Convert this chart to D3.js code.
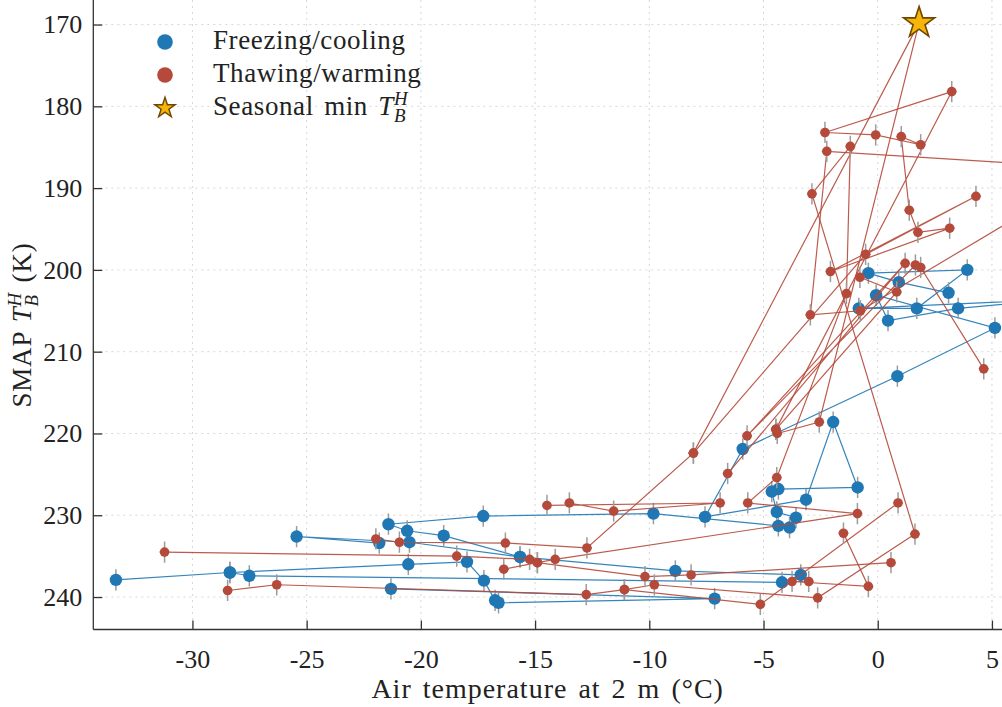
<!DOCTYPE html>
<html>
<head>
<meta charset="utf-8">
<script src="https://cdn.jsdelivr.net/npm/d3@7"></script>
<style>
  html, body { margin: 0; padding: 0; background: #fff; }
  svg { display: block; font-family: "Liberation Serif", "Times New Roman", serif; }
</style>
</head>
<body>
<svg id="chart" width="1002" height="707"></svg>
<script>
// Axis ticks
const xTicks = [-30, -25, -20, -15, -10, -5, 0, 5];
const yTicks = [170, 180, 190, 200, 210, 220, 230, 240];

// Freezing / cooling trajectories: [air temperature (°C), TB H-pol (K)]
const freezeA = [
  [3.10, 202.8], [0.92, 201.5], [-0.41, 200.4], [3.92, 200.0], [1.71, 204.7],
  [-0.83, 204.7], [8.0, 203.6], [3.52, 204.7], [0.45, 206.2], [-0.07, 203.1],
  [5.13, 207.1], [0.86, 213.0], [-5.91, 221.9], [-7.56, 230.2], [-3.14, 228.1],
  [-1.95, 218.6], [-0.88, 226.6], [-4.35, 226.8], [-4.64, 227.1], [-4.42, 229.6],
  [-3.58, 230.3], [-3.86, 231.5], [-4.35, 231.3], [-9.82, 229.8], [-17.27, 230.1],
  [-21.42, 231.1], [-20.60, 231.9], [-19.00, 232.5], [-15.66, 235.1], [-8.86, 236.8],
  [-3.37, 237.3], [-4.19, 238.2], [-27.51, 237.4], [-28.36, 237.0], [-33.35, 237.9]
];
const freezeB = [
  [-28.36, 237.0], [-20.55, 236.0], [-17.98, 235.7], [-17.24, 238.0],
  [-16.75, 240.4], [-16.60, 240.7], [-7.14, 240.2], [-21.31, 239.0]
];
const freezeC = [
  [-21.82, 233.4], [-25.44, 232.6], [-20.50, 233.3], [-15.66, 235.1]
];

// Seasonal minimum of TB H-pol
const seasonalMin = [1.81, 169.8];

// Thawing / warming trajectories
const thawA = [
  [-31.22, 234.5], [-18.43, 235.0], [-15.24, 235.4], [-14.90, 235.8], [-14.12, 235.4],
  [-0.89, 229.8], [-5.69, 228.5], [-4.42, 225.4], [-1.37, 202.9], [-1.20, 184.9],
  [-2.88, 190.7], [1.63, 232.3], [-2.63, 240.1], [-9.78, 238.5], [-11.09, 239.1],
  [-12.76, 239.7], [-26.31, 238.5], [-28.46, 239.2]
];
const thawB = [
  [-21.97, 232.9], [-20.94, 233.3], [-16.30, 233.4], [-12.73, 234.0], [-8.07, 222.4],
  [1.81, 169.8], [-2.56, 218.6], [-4.40, 220.0]
];
const thawC = [[-14.48, 228.8], [-6.90, 228.5], [-11.56, 229.5], [-13.50, 228.5]];
const thawD = [[-16.37, 236.6], [-14.90, 235.8], [-10.19, 237.5], [-8.17, 237.3], [0.58, 235.8]];
const thawE = [[-11.09, 239.1], [-5.14, 240.9], [0.89, 228.5]];
const thawF = [[-3.02, 238.1], [-3.75, 238.1], [-0.41, 238.7], [-1.50, 232.2]];
const thawG = [[8.0, 187.3], [-2.23, 185.5], [-2.95, 205.5], [-0.76, 205.0], [8.0, 190.4]];
const thawH = [
  [-4.46, 219.5], [3.24, 178.2], [-2.31, 183.2], [-0.09, 183.5], [1.88, 184.7],
  [1.03, 183.7], [1.38, 192.7], [1.76, 195.4], [3.15, 194.9], [-2.07, 200.2],
  [4.30, 191.0], [-0.53, 198.1], [-8.07, 222.4]
];
const thawI = [[-6.57, 224.9], [1.20, 199.2], [-5.72, 220.3], [1.65, 199.4], [1.88, 199.7], [4.64, 212.1]];
const thawJ = [[-4.46, 219.5], [0.83, 202.7], [-0.78, 200.9]];

const freezeSegments = [freezeA, freezeB, freezeC];
const thawSegments = [thawA, thawB, thawC, thawD, thawE, thawF, thawG, thawH, thawI, thawJ];

// Measurement uncertainty (half-widths)
const tbErr = 1.3;   // K
const taErr = 0.22;  // °C

const BLUE = "#1f77b4";
const RED = "#b5493a";
const INK = "#222";

const svg = d3.select("#chart");
const plotLeft = 93.3, plotRight = 1002, plotTop = 0, plotBottom = 629.5;

const x = d3.scaleLinear().domain([-34.34, 5.44]).range([plotLeft, plotRight]);
const y = d3.scaleLinear().domain([167.0, 243.97]).range([plotTop, plotBottom]);

svg.append("defs").append("clipPath").attr("id", "plotClip")
  .append("rect").attr("x", plotLeft).attr("y", plotTop)
  .attr("width", plotRight - plotLeft).attr("height", plotBottom - plotTop);

// Dotted grid
const grid = svg.append("g");
grid.selectAll("line.gx").data(xTicks).join("line")
  .attr("x1", d => x(d)).attr("x2", d => x(d))
  .attr("y1", plotTop).attr("y2", plotBottom)
  .attr("stroke", "#d6d6d6").attr("stroke-width", 1).attr("stroke-dasharray", "2,4");
grid.selectAll("line.gy").data(yTicks).join("line")
  .attr("x1", plotLeft).attr("x2", plotRight)
  .attr("y1", d => y(d)).attr("y2", d => y(d))
  .attr("stroke", "#d6d6d6").attr("stroke-width", 1).attr("stroke-dasharray", "2,4");

const plot = svg.append("g").attr("clip-path", "url(#plotClip)");
const line = d3.line().x(d => x(d[0])).y(d => y(d[1]));

function drawSeries(segments, color, radius) {
  const g = plot.append("g");
  g.selectAll("path").data(segments).join("path")
    .attr("d", line)
    .attr("fill", "none")
    .attr("stroke", color)
    .attr("stroke-width", 1.2)
    .attr("stroke-opacity", 0.9);
  const pts = segments.flat().filter(d => !(d[0] === seasonalMin[0] && d[1] === seasonalMin[1]));
  g.selectAll("line.ey").data(pts).join("line")
    .attr("x1", d => x(d[0])).attr("x2", d => x(d[0]))
    .attr("y1", d => y(d[1] - tbErr)).attr("y2", d => y(d[1] + tbErr))
    .attr("stroke", "#9c9c9c").attr("stroke-width", 1.5);
  g.selectAll("line.ex").data(pts).join("line")
    .attr("x1", d => x(d[0] - taErr)).attr("x2", d => x(d[0] + taErr))
    .attr("y1", d => y(d[1])).attr("y2", d => y(d[1]))
    .attr("stroke", "#9c9c9c").attr("stroke-width", 1.5);
  g.selectAll("circle").data(pts).join("circle")
    .attr("cx", d => x(d[0])).attr("cy", d => y(d[1]))
    .attr("r", radius).attr("fill", color);
}

drawSeries(freezeSegments, BLUE, 6.2);
drawSeries(thawSegments, RED, 4.8);

// Seasonal minimum star
const star = d3.symbol().type(d3.symbolStar);
svg.append("path")
  .attr("d", star.size(300)())
  .attr("transform", `translate(${x(seasonalMin[0])},${y(seasonalMin[1])})`)
  .attr("fill", "#f5b50a").attr("stroke", "#6e4700").attr("stroke-width", 1.6);

// Axes with inward ticks
const axisColor = "#333";
const xAxis = svg.append("g").attr("transform", `translate(0,${plotBottom})`)
  .call(d3.axisBottom(x).tickValues(xTicks).tickSize(-9).tickPadding(20)
    .tickFormat(d => String(d)));
const yAxis = svg.append("g").attr("transform", `translate(${plotLeft},0)`)
  .call(d3.axisLeft(y).tickValues(yTicks).tickSize(-9).tickPadding(11));
[xAxis, yAxis].forEach(a => {
  a.select(".domain").attr("stroke", axisColor).attr("stroke-width", 1.3);
  a.selectAll(".tick line").attr("stroke", axisColor).attr("stroke-width", 1.3);
  a.selectAll(".tick text").attr("fill", INK).attr("font-size", 26)
    .attr("font-family", "Liberation Serif, serif");
});
xAxis.select(".domain").attr("d", `M${plotLeft},0H${plotRight}`);
yAxis.select(".domain").attr("d", `M0,${plotTop}V${plotBottom}`);

// Text with italic T, subscript B and superscript H
function mathText(parent, prefix, suffix, fs, spacing) {
  const t = parent.append("text").attr("font-size", fs).attr("fill", INK)
    .attr("letter-spacing", spacing);
  t.append("tspan").text(prefix);
  t.append("tspan").attr("font-style", "italic").text("T");
  const sub = t.append("tspan").attr("font-size", fs * 0.7).attr("font-style", "italic")
    .attr("dy", fs * 0.26).text("B");
  const wB = sub.node().getComputedTextLength();
  t.append("tspan").attr("font-size", fs * 0.7).attr("font-style", "italic")
    .attr("dx", -wB).attr("dy", -fs * 0.64).text("H");
  t.append("tspan").attr("dy", fs * 0.38).text(suffix);
  return t;
}

// Axis titles
svg.append("text").attr("x", (plotLeft + plotRight) / 2).attr("y", 698)
  .attr("text-anchor", "middle").attr("font-size", 28).attr("fill", INK)
  .attr("letter-spacing", 1.0).attr("word-spacing", 3)
  .text("Air temperature at 2 m (°C)");

const yTitle = svg.append("g").attr("transform", "translate(31,325) rotate(-90)");
mathText(yTitle, "SMAP ", " (K)", 27, 0.8).attr("text-anchor", "middle").attr("word-spacing", 2);

// Legend
const legend = svg.append("g");
const rows = [42, 75, 108];
legend.append("circle").attr("cx", 165).attr("cy", rows[0]).attr("r", 7.8).attr("fill", BLUE);
legend.append("circle").attr("cx", 165).attr("cy", rows[1]).attr("r", 7.8).attr("fill", RED);
legend.append("path").attr("d", star.size(130)())
  .attr("transform", `translate(165,${rows[2]})`)
  .attr("fill", "#f5b50a").attr("stroke", "#6e4700").attr("stroke-width", 1.4);
legend.append("text").attr("x", 213).attr("y", rows[0] + 7).attr("font-size", 27).attr("fill", INK)
  .attr("letter-spacing", 0.6).text("Freezing/cooling");
legend.append("text").attr("x", 213).attr("y", rows[1] + 7).attr("font-size", 27).attr("fill", INK)
  .attr("letter-spacing", 0.6).text("Thawing/warming");
mathText(legend.append("g").attr("transform", `translate(213,${rows[2] + 7})`),
  "Seasonal min ", "", 27, 0.6).attr("word-spacing", 3);
</script>
</body>
</html>
